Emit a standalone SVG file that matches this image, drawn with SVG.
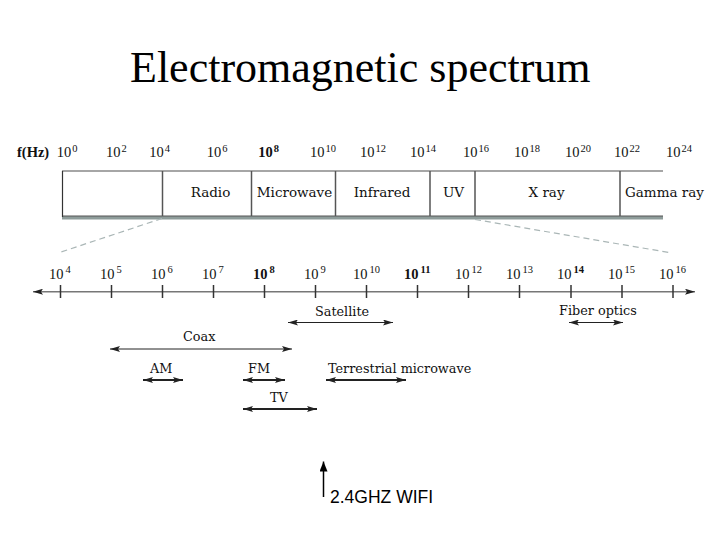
<svg xmlns="http://www.w3.org/2000/svg" width="720" height="540" viewBox="0 0 720 540">
<style>
.title{font-family:"Liberation Serif","Times New Roman",serif;font-size:44px;fill:#000}
.num{font-family:"Liberation Serif","Times New Roman",serif;font-size:14.5px;fill:#111}
.sup{font-size:10.5px}
.band{font-family:"DejaVu Serif","Liberation Serif",serif;font-size:13.5px;fill:#111}
.lab{font-family:"DejaVu Serif","Liberation Serif",serif;font-size:12.8px;fill:#111}
.wifi{font-family:"Liberation Sans",Arial,sans-serif;font-size:17.5px;fill:#000}
.tick{stroke:#333;stroke-width:1.5}
.div{stroke:#555;stroke-width:1.5}
.con{fill:none;stroke:#222;stroke-width:1;marker-start:url(#ah);marker-end:url(#ah)}
.thick{stroke-width:2}
.dash{fill:none;stroke:#aab6b6;stroke-width:1.2;stroke-dasharray:6 4}
</style>
<defs>
<marker id="ah" markerUnits="userSpaceOnUse" viewBox="0 0 10 6" refX="10" refY="3" markerWidth="10" markerHeight="6" orient="auto-start-reverse">
<path d="M0,0 L10,3 L0,6 L2,3 z" fill="#222"/>
</marker>
<marker id="ahw" markerUnits="userSpaceOnUse" viewBox="0 0 10 8" refX="10" refY="4" markerWidth="10" markerHeight="8" orient="auto">
<path d="M0,0 L10,4 L0,8 z" fill="#000"/>
</marker>
</defs>
<rect width="720" height="540" fill="#fff"/>

<text id="title" class="title" x="130" y="82">Electromagnetic spectrum</text>

<g id="freq-top">
<text class="num" x="17" y="157" font-weight="bold">f(Hz)</text>
<text class="num" x="56.7" y="157">10<tspan class="sup" dx="1" dy="-5">0</tspan></text>
<text class="num" x="106" y="157">10<tspan class="sup" dx="1" dy="-5">2</tspan></text>
<text class="num" x="149.3" y="157">10<tspan class="sup" dx="1" dy="-5">4</tspan></text>
<text class="num" x="206.7" y="157">10<tspan class="sup" dx="1" dy="-5">6</tspan></text>
<text class="num" x="258.3" y="157" font-weight="bold">10<tspan class="sup" dx="1" dy="-5">8</tspan></text>
<text class="num" x="310" y="157">10<tspan class="sup" dx="1" dy="-5">10</tspan></text>
<text class="num" x="360" y="157">10<tspan class="sup" dx="1" dy="-5">12</tspan></text>
<text class="num" x="410" y="157">10<tspan class="sup" dx="1" dy="-5">14</tspan></text>
<text class="num" x="463" y="157">10<tspan class="sup" dx="1" dy="-5">16</tspan></text>
<text class="num" x="514" y="157">10<tspan class="sup" dx="1" dy="-5">18</tspan></text>
<text class="num" x="565" y="157">10<tspan class="sup" dx="1" dy="-5">20</tspan></text>
<text class="num" x="614" y="157">10<tspan class="sup" dx="1" dy="-5">22</tspan></text>
<text class="num" x="666" y="157">10<tspan class="sup" dx="1" dy="-5">24</tspan></text>
</g>

<g id="band">
<rect x="62" y="216" width="601" height="3.5" fill="#8e9c9a"/>
<line x1="62" y1="171" x2="663" y2="171" stroke="#888" stroke-width="1.3"/>
<line x1="62" y1="216" x2="663" y2="216" stroke="#555" stroke-width="1"/>
<line x1="62.5" y1="171" x2="62.5" y2="217" stroke="#333" stroke-width="1.2"/>
<line class="div" x1="162.5" y1="171" x2="162.5" y2="216"/>
<line class="div" x1="251.5" y1="171" x2="251.5" y2="216"/>
<line class="div" x1="335.5" y1="171" x2="335.5" y2="216"/>
<line class="div" x1="430" y1="171" x2="430" y2="216"/>
<line class="div" x1="475" y1="171" x2="475" y2="216"/>
<line class="div" x1="620" y1="171" x2="620" y2="216"/>
</g>
<g id="band-radio"><text class="band" x="210.5" y="196.7" text-anchor="middle">Radio</text></g>
<g id="band-microwave"><text class="band" x="294.5" y="196.7" text-anchor="middle">Microwave</text></g>
<g id="band-infrared"><text class="band" x="382" y="196.7" text-anchor="middle">Infrared</text></g>
<g id="band-uv"><text class="band" x="453.5" y="196.7" text-anchor="middle">UV</text></g>
<g id="band-xray"><text class="band" x="546.5" y="196.7" text-anchor="middle">X ray</text></g>
<g id="band-gamma"><text class="band" x="625" y="196.7">Gamma ray</text></g>

<g id="axis-labels">
<text class="num" x="49" y="278.5">10<tspan class="sup" dx="2" dy="-6">4</tspan></text>
<text class="num" x="100" y="278.5">10<tspan class="sup" dx="2" dy="-6">5</tspan></text>
<text class="num" x="151" y="278.5">10<tspan class="sup" dx="2" dy="-6">6</tspan></text>
<text class="num" x="202" y="278.5">10<tspan class="sup" dx="2" dy="-6">7</tspan></text>
<text class="num" x="253" y="278.5" font-weight="bold">10<tspan class="sup" dx="2" dy="-6">8</tspan></text>
<text class="num" x="304" y="278.5">10<tspan class="sup" dx="2" dy="-6">9</tspan></text>
<text class="num" x="353" y="278.5">10<tspan class="sup" dx="2" dy="-6">10</tspan></text>
<text class="num" x="404" y="278.5" font-weight="bold">10<tspan class="sup" dx="2" dy="-6">11</tspan></text>
<text class="num" x="455" y="278.5">10<tspan class="sup" dx="2" dy="-6">12</tspan></text>
<text class="num" x="506" y="278.5">10<tspan class="sup" dx="2" dy="-6">13</tspan></text>
<text class="num" x="557" y="278.5">10<tspan class="sup" dx="2" dy="-6" font-weight="bold">14</tspan></text>
<text class="num" x="608" y="278.5">10<tspan class="sup" dx="2" dy="-6">15</tspan></text>
<text class="num" x="659" y="278.5">10<tspan class="sup" dx="2" dy="-6">16</tspan></text>
</g>

<g id="axis">
<line x1="33" y1="291.7" x2="695" y2="291.7" stroke="#777" stroke-width="1.5" marker-start="url(#ah)" marker-end="url(#ah)"/>
<line class="tick" x1="60.5" y1="285" x2="60.5" y2="298"/>
<line class="tick" x1="111.5" y1="285" x2="111.5" y2="298"/>
<line class="tick" x1="162.5" y1="285" x2="162.5" y2="298"/>
<line class="tick" x1="213.5" y1="285" x2="213.5" y2="298"/>
<line class="tick" x1="264.5" y1="285" x2="264.5" y2="298"/>
<line class="tick" x1="315.5" y1="285" x2="315.5" y2="298"/>
<line class="tick" x1="366.5" y1="285" x2="366.5" y2="298"/>
<line class="tick" x1="417.5" y1="285" x2="417.5" y2="298"/>
<line class="tick" x1="468.5" y1="285" x2="468.5" y2="298"/>
<line class="tick" x1="519.5" y1="285" x2="519.5" y2="298"/>
<line class="tick" x1="571" y1="285" x2="571" y2="298"/>
<line class="tick" x1="622" y1="285" x2="622" y2="298"/>
<line class="tick" x1="673" y1="285" x2="673" y2="298"/>
</g>

<g id="satellite"><text class="lab" x="315" y="315.7">Satellite</text></g>
<g id="fiber"><text class="lab" x="559" y="315">Fiber optics</text></g>
<g id="coax"><text class="lab" x="183" y="340.7">Coax</text></g>
<g id="am"><text class="lab" x="150" y="372.7">AM</text></g>
<g id="fm"><text class="lab" x="248" y="372.7">FM</text></g>
<g id="terrestrial"><text class="lab" x="328" y="372.7">Terrestrial microwave</text></g>
<g id="tv"><text class="lab" x="270" y="401.7">TV</text></g>
<g id="wifi"><text class="wifi" x="330" y="503">2.4GHZ WIFI</text></g>

<g id="connectors">
<line class="dash" x1="162" y1="218.5" x2="61" y2="252"/>
<line class="dash" x1="475" y1="219.5" x2="672" y2="253"/>
<line class="con" x1="288" y1="322.5" x2="393" y2="322.5"/>
<line class="con" x1="569" y1="322.5" x2="623" y2="322.5"/>
<line class="con" x1="110" y1="349" x2="292" y2="349"/>
<line class="con thick" x1="143" y1="380" x2="183" y2="380"/>
<line class="con thick" x1="243" y1="380" x2="285" y2="380"/>
<line class="con thick" x1="326" y1="380" x2="406" y2="380"/>
<line class="con thick" x1="243" y1="409" x2="317" y2="409" stroke="#444"/>
<line x1="323.5" y1="497" x2="323.5" y2="461.5" stroke="#000" stroke-width="1.5" marker-end="url(#ahw)"/>
</g>
</svg>
